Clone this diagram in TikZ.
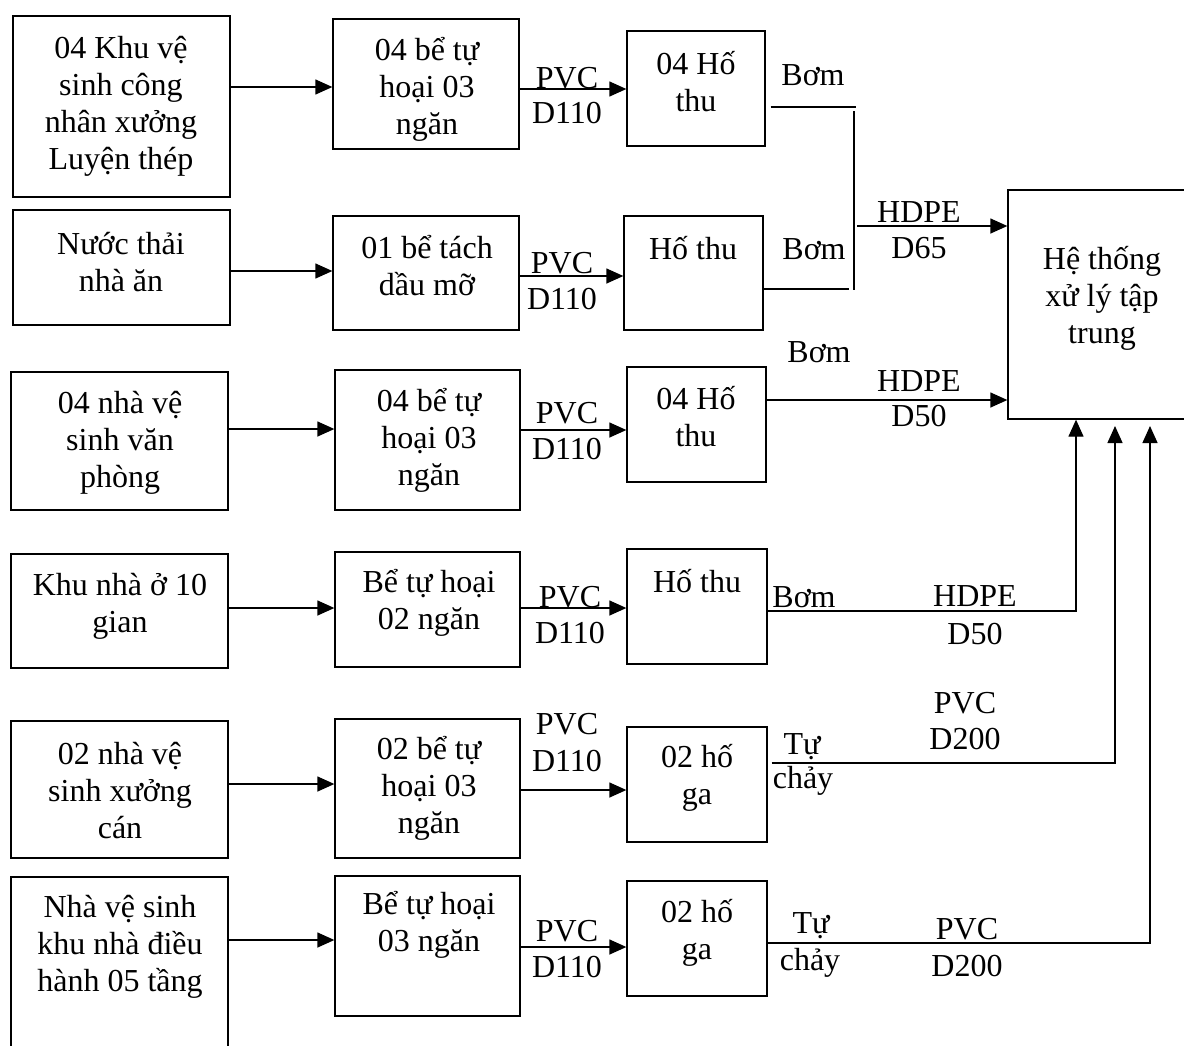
\documentclass[tikz,border=0pt]{standalone}
\usepackage{fontspec}
\setmainfont{Liberation Serif}
\usetikzlibrary{fit,arrows.meta}
\tikzset{
  box/.style={draw, line width=1.3pt, inner sep=0pt},
  txt/.style={align=center, inner sep=0pt, font=\fontsize{32}{37}\selectfont},
  ln/.style={line width=1.3pt},
  arr/.style={line width=1.3pt, -{Triangle[length=17pt,width=15pt]}}
}
\begin{document}
\begin{tikzpicture}[x=1pt,y=-1pt]
\useasboundingbox (0,0) rectangle (1184,1045);
\clip (0,0) rectangle (1184,1045);
% column 1
\node[box, fit={(13,16)(230,197)}] (a1) {};
\node[box, fit={(13,210)(230,325)}] (a2) {};
\node[box, fit={(11,372)(228,510)}] (a3) {};
\node[box, fit={(11,554)(228,668)}] (a4) {};
\node[box, fit={(11,721)(228,858)}] (a5) {};
\node[box, fit={(11,877)(228,1070)}] (a6) {};
% column 2
\node[box, fit={(333,19)(519,149)}] (b1) {};
\node[box, fit={(333,216)(519,330)}] (b2) {};
\node[box, fit={(335,370)(520,510)}] (b3) {};
\node[box, fit={(335,552)(520,667)}] (b4) {};
\node[box, fit={(335,719)(520,858)}] (b5) {};
\node[box, fit={(335,876)(520,1016)}] (b6) {};
% column 3
\node[box, fit={(627,31)(765,146)}] (c1) {};
\node[box, fit={(624,216)(763,330)}] (c2) {};
\node[box, fit={(627,367)(766,482)}] (c3) {};
\node[box, fit={(627,549)(767,664)}] (c4) {};
\node[box, fit={(627,727)(767,842)}] (c5) {};
\node[box, fit={(627,881)(767,996)}] (c6) {};
% central system
\node[box, fit={(1008,190)(1215,419)}] (h) {};

% texts in boxes
\node[txt] (ta1) at (121,106) {04 Khu vệ\\sinh công\\nhân xưởng\\Luyện thép};
\node[txt] (ta2) at (121,262) {Nước thải\\nhà ăn};
\node[txt] (ta3) at (120,443) {04 nhà vệ\\sinh văn\\phòng};
\node[txt] (ta4) at (120,606) {Khu nhà ở 10\\gian};
\node[txt] (ta5) at (120,791) {02 nhà vệ\\sinh xưởng\\cán};
\node[txt] (ta6) at (120,947) {Nhà vệ sinh\\khu nhà điều\\hành 05 tầng};
\node[txt] (tb1) at (427,89) {04 bể tự\\hoại 03\\ngăn};
\node[txt] (tb2) at (427,266) {01 bể tách\\dầu mỡ};
\node[txt] (tb3) at (429,440) {04 bể tự\\hoại 03\\ngăn};
\node[txt] (tb4) at (429,603) {Bể tự hoại\\02 ngăn};
\node[txt] (tb5) at (429,788) {02 bể tự\\hoại 03\\ngăn};
\node[txt] (tb6) at (429,925) {Bể tự hoại\\03 ngăn};
\node[txt] (tc1) at (696,82) {04 Hố\\thu};
\node[txt] (tc2) at (693,248) {Hố thu};
\node[txt] (tc3) at (696,417) {04 Hố\\thu};
\node[txt] (tc4) at (697,581) {Hố thu};
\node[txt] (tc5) at (697,778) {02 hố\\ga};
\node[txt] (tc6) at (697,933) {02 hố\\ga};
\node[txt] (th) at (1102,298) {Hệ thống\\xử lý tập\\trung};

% arrows column 1 -> column 2
\draw[arr] (a1.east |- 0,87) -- (b1.west |- 0,87);
\draw[arr] (a2.east |- 0,271) -- (b2.west |- 0,271);
\draw[arr] (a3.east |- 0,429) -- (b3.west |- 0,429);
\draw[arr] (a4.east |- 0,608) -- (b4.west |- 0,608);
\draw[arr] (a5.east |- 0,784) -- (b5.west |- 0,784);
\draw[arr] (a6.east |- 0,940) -- (b6.west |- 0,940);

% arrows column 2 -> column 3
\draw[arr] (b1.east |- 0,89) -- (c1.west |- 0,89);
\draw[arr] (b2.east |- 0,276) -- (c2.west |- 0,276);
\draw[arr] (b3.east |- 0,430) -- (c3.west |- 0,430);
\draw[arr] (b4.east |- 0,608) -- (c4.west |- 0,608);
\draw[arr] (b5.east |- 0,790) -- (c5.west |- 0,790);
\draw[arr] (b6.east |- 0,947) -- (c6.west |- 0,947);

% PVC D110 labels
\node[txt] (p1a) at (567,78) {PVC};  \node[txt] (p1b) at (567,113) {D110};
\node[txt] (p2a) at (562,263) {PVC};  \node[txt] (p2b) at (562,299) {D110};
\node[txt] (p3a) at (567,413) {PVC};  \node[txt] (p3b) at (567,449) {D110};
\node[txt] (p4a) at (570,597) {PVC};  \node[txt] (p4b) at (570,633) {D110};
\node[txt] (p5a) at (567,724) {PVC};  \node[txt] (p5b) at (567,761) {D110};
\node[txt] (p6a) at (567,931) {PVC};  \node[txt] (p6b) at (567,967) {D110};

% outflow from pits
\coordinate (e1) at (856,107);
\coordinate (v1t) at (854,111);
\coordinate (v1b) at (854,290);
\coordinate (e2) at (849,289);
\coordinate (m1) at (857,226);
\draw[ln] ([xshift=5pt]c1.east |- e1) -- (e1);
\draw[ln] (v1t) -- (v1b);
\draw[ln] (c2.east |- e2) -- (e2);
\draw[arr] (m1) -- (h.west |- m1);

\draw[arr] (c3.east |- 0,400) -- (h.west |- 0,400);

\coordinate (k4) at (1076,611);
\draw[arr] (c4.east |- k4) -- (k4) -- (k4 |- h.south);

\coordinate (k5) at (1115,763);
\coordinate (t5) at (1115,426);
\draw[arr] ([xshift=4pt]c5.east |- k5) -- (k5) -- (t5);

\coordinate (k6) at (1150,943);
\coordinate (t6) at (1150,426);
\draw[arr] (c6.east |- k6) -- (k6) -- (t6);

% pipe labels
\node[txt] (bo1) at (813,75) {Bơm};
\node[txt] (bo2) at (814,249) {Bơm};
\node[txt] (bo3) at (819,352) {Bơm};
\node[txt] (bo4) at (804,597) {Bơm};
\node[txt] (hd1a) at (919,212) {HDPE}; \node[txt] (hd1b) at (919,248) {D65};
\node[txt] (hd2a) at (919,381) {HDPE}; \node[txt] (hd2b) at (919,416) {D50};
\node[txt] (hd3a) at (975,596) {HDPE}; \node[txt] (hd3b) at (975,634) {D50};
\node[txt] (tu5a) at (802,747) {Tự}; \node[txt] (tu5b) at (803,781) {chảy};
\node[txt] (tu6a) at (811,926) {Tự}; \node[txt] (tu6b) at (810,963) {chảy};
\node[txt] (pv5a) at (965,703) {PVC}; \node[txt] (pv5b) at (965,739) {D200};
\node[txt] (pv6a) at (967,929) {PVC}; \node[txt] (pv6b) at (967,966) {D200};
\end{tikzpicture}
\end{document}
